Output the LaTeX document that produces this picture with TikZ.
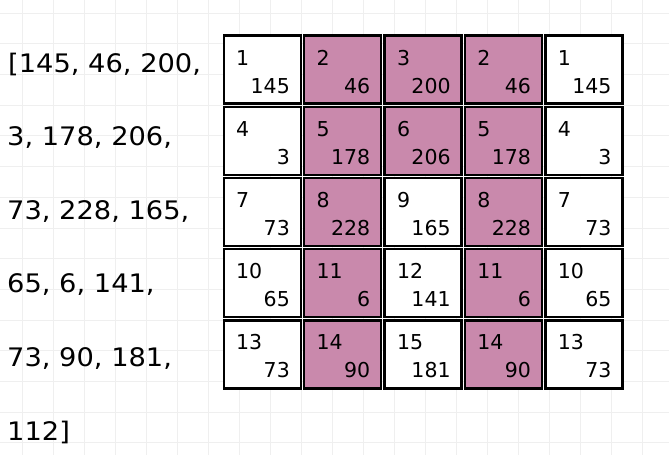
\documentclass[tikz,border=0pt]{standalone}
\usepackage{fontspec}
\newfontfamily\listfont[FakeStretch=1.07]{DejaVu Sans}
\newfontfamily\cellfont{DejaVu Sans}
\usetikzlibrary{calc}
\definecolor{pinkfill}{RGB}{201,137,172}
\definecolor{gridgray}{RGB}{239,239,239}
\tikzset{
  gridline/.style={draw=gridgray, line width=0.8pt},
  cellbox/.style={draw=black, line width=2.4pt, minimum width=77pt, minimum height=68pt, inner sep=0pt, outer sep=0pt, fill=white},
  pinkbox/.style={cellbox, fill=pinkfill},
  idxtext/.style={anchor=base west, inner sep=0pt, font=\cellfont\fontsize{20.5}{24}\selectfont},
  valtext/.style={anchor=base east, inner sep=0pt, font=\cellfont\fontsize{20.5}{24}\selectfont},
  listtext/.style={anchor=base west, inner sep=0pt, font=\listfont\fontsize{25.5}{30}\selectfont}
}
\begin{document}
\begin{tikzpicture}[x=1pt,y=-1pt]
\path[use as bounding box, fill=white] (0,0) rectangle (669,455);
\foreach \i in {0,...,21} { \draw[gridline] ({22+31*\i},0) -- ({22+31*\i},455); }
\foreach \j in {0,...,14} { \draw[gridline] (0,{13+30.7*\j}) -- (669,{13+30.7*\j}); }
% list text
\node[listtext] (l1) at (8,72) {[145, 46, 200,};
\node[listtext] (l2) at (7,145.6) {3, 178, 206,};
\node[listtext] (l3) at (7,219.2) {73, 228, 165,};
\node[listtext] (l4) at (7,292.8) {65, 6, 141,};
\node[listtext] (l5) at (7,366.4) {73, 90, 181,};
\node[listtext] (l6) at (7,440) {112]};
% cells: row/col/style/index/value
\foreach \r/\c/\s/\n/\v in {
 0/0/cellbox/1/145, 0/1/pinkbox/2/46, 0/2/pinkbox/3/200, 0/3/pinkbox/2/46, 0/4/cellbox/1/145,
 1/0/cellbox/4/3, 1/1/pinkbox/5/178, 1/2/pinkbox/6/206, 1/3/pinkbox/5/178, 1/4/cellbox/4/3,
 2/0/cellbox/7/73, 2/1/pinkbox/8/228, 2/2/cellbox/9/165, 2/3/pinkbox/8/228, 2/4/cellbox/7/73,
 3/0/cellbox/10/65, 3/1/pinkbox/11/6, 3/2/cellbox/12/141, 3/3/pinkbox/11/6, 3/4/cellbox/10/65,
 4/0/cellbox/13/73, 4/1/pinkbox/14/90, 4/2/cellbox/15/181, 4/3/pinkbox/14/90, 4/4/cellbox/13/73} {
  \node[\s] (cell-\r-\c) at ({262.2+80.4*\c},{69.6+71.2*\r}) {};
  \node[idxtext] (idx-\r-\c) at ($(cell-\r-\c.north west)+(12.3,29.4)$) {\n};
  \node[valtext] (val-\r-\c) at ($(cell-\r-\c.north east)+(-10.7,57.4)$) {\v};
}
\end{tikzpicture}
\end{document}
